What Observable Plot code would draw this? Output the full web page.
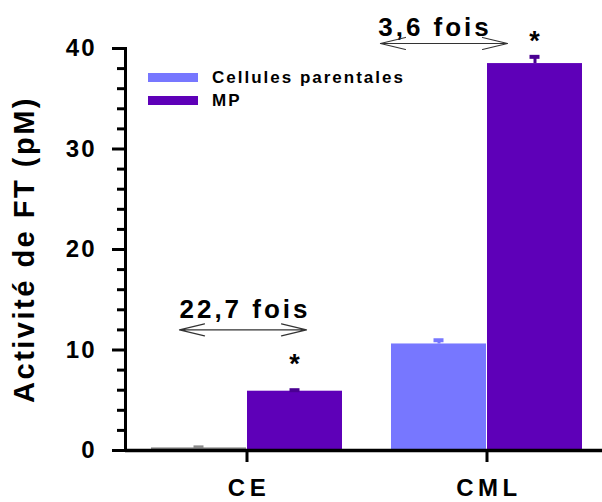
<!DOCTYPE html>
<html><head><meta charset="utf-8">
<script src="https://cdn.jsdelivr.net/npm/d3@7"></script>
<script src="https://cdn.jsdelivr.net/npm/@observablehq/plot@0.6"></script>
<style>
body{margin:0;background:#fff;font-family:"Liberation Sans",Arial,sans-serif;}
#wrap{position:relative;width:602px;height:502px;}
#legend{position:absolute;left:148px;top:66px;}
.row{display:flex;align-items:center;height:23px;}
.sw{width:50px;height:9px;margin-right:14px;}
.lab{font-weight:bold;font-size:17px;letter-spacing:2px;color:#000;}
</style></head><body><div id="wrap"></div>
<script>
// ---- data ----
const categories = ["CE", "CML"];
const series = ["Cellules parentales", "MP"];
const parentValues = [0.26, 10.6];
const parentErrors = [0.05, 0.37];
const mpValues = [5.9, 38.5];
const mpErrors = [0.1, 0.67];
const yTicks = [0, 10, 20, 30, 40];
const yMinorTicks = [2, 4, 6, 8, 12, 14, 16, 18, 22, 24, 26, 28, 32, 34, 36, 38];
const foldLabels = ["22,7 fois", "3,6 fois"];
const foldLabelY = [14.0, 42.1];
const foldArrowY = [12.0, 40.5];
const starY = [8.6, 40.7];
const yLabel = "Activité de FT (pM)";

// ---- styles ----
const PARENT = "#7777ff", MPC = "#5e00b8", TINY = "#8a8a8a", MP_ERR = "#4a0092";
const seriesColors = [PARENT, MPC];
const labelDx = [-2, -52];
const arrowDx = [-4, -43];

const parentRows = categories.map((c, i) => ({category: c, value: parentValues[i], err: parentErrors[i]}));
const mpRows = categories.map((c, i) => ({category: c, value: mpValues[i], err: mpErrors[i]}));

const doubleArrow = {
  draw(ctx, l) {
    const w = 25, h = 6;
    ctx.moveTo(0, 0); ctx.lineTo(0, -l);
    ctx.moveTo(-h, -l + w); ctx.lineTo(0, -l); ctx.lineTo(h, -l + w);
    ctx.moveTo(-h, -w); ctx.lineTo(0, 0); ctx.lineTo(h, -w);
  }
};
const pColor = d => d.value < 1 ? TINY : PARENT;

const annotations = categories.flatMap((c, i) => [
  Plot.text([c], {x: d => d, y: () => foldLabelY[i], text: () => foldLabels[i], dx: labelDx[i],
    fontSize: 26, fontWeight: "bold", fill: "#000"}),
  Plot.vector([c], {x: d => d, y: () => foldArrowY[i], length: 127, rotate: 90, anchor: "middle",
    shape: doubleArrow, dx: arrowDx[i], stroke: "#333", strokeWidth: 1.2})
]);

const plot = Plot.plot({
  width: 602, height: 502,
  marginLeft: 125, marginRight: 0, marginTop: 48, marginBottom: 52,
  style: {fontFamily: "'Liberation Sans', Arial, sans-serif", color: "#000", background: "#fff"},
  x: {domain: categories, paddingInner: 0.2033, paddingOuter: 0.0913, align: 0.568},
  y: {domain: [0, 40]},
  marks: [
    Plot.barY(parentRows, {x: "category", y: "value", fill: pColor, insetRight: 96}),
    Plot.barY(mpRows, {x: "category", y: "value", fill: MPC, insetLeft: 96}),
    Plot.ruleX(parentRows, {x: "category", y1: "value", y2: d => d.value + d.err, dx: -48, stroke: pColor, strokeWidth: 3}),
    Plot.tickY(parentRows, {x: "category", y: d => d.value + d.err, stroke: pColor, strokeWidth: 4, insetLeft: 42.5, insetRight: 138.5}),
    Plot.ruleX(mpRows, {x: "category", y1: "value", y2: d => d.value + d.err, dx: 48, stroke: MP_ERR, strokeWidth: 3}),
    Plot.tickY(mpRows, {x: "category", y: d => d.value + d.err, stroke: MP_ERR, strokeWidth: 4, insetLeft: 138.5, insetRight: 42.5}),
    Plot.text(categories, {x: d => d, y: (d, i) => starY[i], text: () => "*", dx: 49, fontSize: 27, fontWeight: "bold", fill: "#000"}),
    ...annotations,
    Plot.axisY({ticks: yMinorTicks, tickSize: 8, tickFormat: () => "", strokeWidth: 3, label: null}),
    Plot.axisY({ticks: yTicks, tickSize: 13, tickPadding: 16, strokeWidth: 3, fontSize: 24, fontWeight: "bold",
      label: yLabel, labelAnchor: "center", labelOffset: 112, labelArrow: "none"}),
    Plot.axisX({tickSize: 12, tickPadding: 16, strokeWidth: 3, fontSize: 24, fontWeight: "bold", label: null}),
    Plot.ruleY([0], {strokeWidth: 3.5}),
    Plot.frame({anchor: "left", strokeWidth: 3})
  ]
});

const svg = d3.select(plot);
svg.selectAll('g[aria-label="y-axis tick label"] text').attr("letter-spacing", 2);
svg.selectAll('g[aria-label="x-axis tick label"] text').attr("letter-spacing", 4.5).attr("dx", 2);
svg.selectAll('g[aria-label="y-axis label"] text').attr("letter-spacing", 2.5).attr("font-size", 29);
svg.selectAll('g[aria-label="text"] text').attr("letter-spacing", 3);

const wrap = document.getElementById("wrap");
wrap.appendChild(plot);
const legend = document.createElement("div");
legend.id = "legend";
series.forEach((s, i) => {
  const row = document.createElement("div"); row.className = "row";
  const sw = document.createElement("div"); sw.className = "sw"; sw.style.background = seriesColors[i];
  const lab = document.createElement("span"); lab.className = "lab"; lab.textContent = s;
  row.appendChild(sw); row.appendChild(lab); legend.appendChild(row);
});
wrap.appendChild(legend);
</script></body></html>
